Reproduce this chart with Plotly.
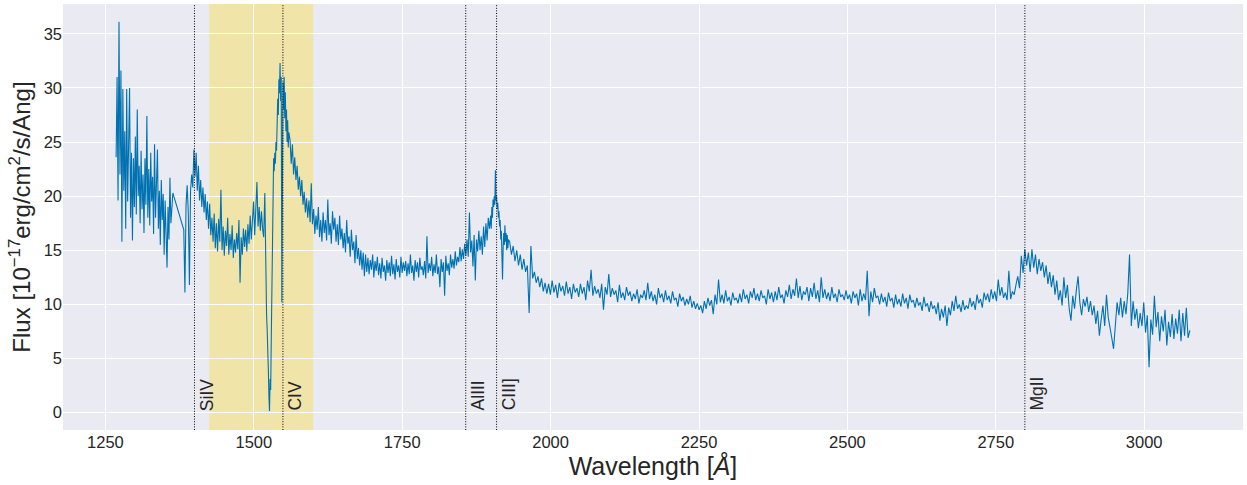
import numpy as np
import plotly.graph_objects as go

# Rest-frame quasar spectrum, stored as contiguous pieces: (start Å, end Å, flux values)
BLUE_START, BLUE_END = 1268.0, 1363.5
BLUE_FLUX = [
    23.6, 31.0, 19.6, 36.1, 22.0, 31.6, 15.8, 29.9, 20.5, 26.0,
    17.0, 29.9, 19.5, 24.5, 30.0, 18.0, 24.0, 15.9, 23.5, 19.0,
    25.5, 18.3, 28.0, 20.0, 22.8, 17.5, 24.2, 18.8, 22.0, 16.6,
    23.5, 19.2, 27.4, 18.0, 22.5, 17.3, 24.0, 19.5, 21.8, 16.5,
    24.8, 18.0, 21.0, 24.3, 17.0, 20.5, 15.5, 21.5, 17.8, 20.2,
    14.6, 19.6, 16.5, 13.4, 19.0, 16.0, 21.7, 17.5, 18.8, 20.3,
]

SIIV_START, SIIV_END = 1382.0, 1518.5
SIIV_FLUX = [
    16.9, 11.1, 19.2, 21.0, 18.5, 11.8, 20.5, 22.0, 20.8, 24.3,
    21.8, 24.0, 20.5, 22.8, 19.6, 21.5, 19.0, 20.8, 18.5, 20.2,
    17.8, 19.5, 17.0, 19.3, 16.4, 18.0, 15.8, 18.4, 15.2, 17.5,
    14.9, 17.9, 15.8, 20.6, 15.0, 17.2, 14.5, 16.8, 15.4, 18.0,
    14.6, 16.5, 15.0, 17.3, 14.3, 16.0, 14.8, 16.6, 15.1, 17.8,
    12.0, 16.2, 14.6, 17.0, 15.3, 16.9, 14.9, 17.4, 15.6, 18.2,
    16.0, 17.5, 19.5, 16.4, 18.6, 21.3, 17.2, 19.0, 16.8, 18.6,
    17.0, 16.2, 20.3,
]

CIV_START, CIV_END = 1519.5, 1559.0
CIV_FLUX = [
    14.0, 11.1, 9.0, 7.7, 6.5, 4.0, 1.5, 0.15, 3.1, 2.1,
    6.8, 11.0, 16.9, 18.2, 23.5, 22.3, 24.0, 23.0, 25.0, 24.2,
    26.8, 29.0, 27.5, 30.8, 29.5, 32.3, 28.8, 31.0, 10.2, 29.0,
    30.5, 28.0, 31.0, 27.2, 29.6, 26.0, 28.0, 25.0, 27.0, 24.5,
    25.9,
]

MID_START, MID_END = 1561.0, 1897.0
MID_FLUX = [
    25.2, 23.0, 24.8, 22.0, 23.6, 21.5, 22.8, 20.6, 21.8, 20.0,
    21.5, 19.2, 20.4, 18.5, 19.8, 18.0, 19.6, 17.6, 21.2, 17.4,
    18.8, 16.5, 18.2, 16.9, 19.0, 16.2, 17.8, 15.8, 18.5, 16.6,
    17.8, 15.9, 19.7, 16.4, 17.5, 15.6, 18.6, 16.9, 18.0, 15.8,
    17.4, 15.5, 18.2, 16.0, 17.0, 15.2, 16.6, 14.8, 17.8, 15.6,
    16.3, 14.4, 16.9, 15.0, 15.8, 13.8, 16.4, 14.2, 15.2, 13.6,
    15.0, 13.2, 14.8, 12.6, 14.6, 13.0, 14.3, 12.8, 14.1, 13.2,
    14.6, 12.5, 14.0, 13.1, 14.4, 12.7, 13.8, 12.4, 14.3, 13.0,
    13.6, 12.2, 14.1, 12.9, 13.9, 12.6, 14.5, 12.8, 13.7, 12.3,
    14.2, 13.0, 13.6, 12.5, 14.4, 12.9, 13.9, 13.1, 14.0, 12.6,
    13.8, 12.8, 14.6, 12.9, 13.6, 12.2, 14.1, 13.0, 13.9, 12.5,
    14.3, 13.2, 13.5, 12.7, 14.0, 12.4, 16.3, 12.9, 13.8, 13.1,
    14.4, 12.6, 13.7, 12.9, 14.6, 12.8, 13.5, 11.6, 14.2, 13.0,
    13.9, 10.8, 14.5, 13.1, 13.8, 12.7, 14.6, 13.4, 14.2, 13.3,
    14.9, 13.6, 14.4, 13.9, 15.3, 14.0, 15.1, 14.2, 15.6, 14.5,
    16.0, 14.4, 18.5, 14.8, 15.9, 13.5, 16.4, 12.2, 16.0, 14.9,
    16.8, 15.0, 16.3, 14.6, 17.2, 15.3, 17.5, 15.9, 18.0, 17.0,
]

CIII_START, CIII_END = 1899.0, 1929.0
CIII_FLUX = [
    18.2, 17.0, 19.0, 18.0, 19.7, 19.0, 20.0, 19.2, 22.4, 19.6,
    20.0, 18.8, 19.4, 18.0, 18.6, 17.2, 17.8, 16.0, 16.8, 14.5,
    12.3, 15.2, 16.6, 15.5, 17.3, 15.8, 16.6, 15.0, 16.4, 15.2,
    16.0,
]

CONT_START, CONT_END = 1931.0, 2781.0
CONT_FLUX = [
    15.8, 14.6, 15.4, 14.0, 15.0, 13.6, 14.6, 13.2, 14.2, 13.0,
    13.6, 9.2, 15.4, 12.4, 13.0, 12.0, 12.6, 11.6, 12.4, 11.2,
    12.0, 11.0, 11.9, 10.9, 12.2, 11.1, 11.8, 10.6, 12.0, 11.2,
    11.7, 10.8, 12.1, 11.0, 11.6, 10.5, 11.9, 11.1, 11.5, 10.7,
    11.9, 11.0, 11.6, 10.4, 12.2, 11.2, 13.2, 10.8, 11.7, 11.0,
    11.4, 10.6, 11.9, 9.5, 11.6, 10.9, 12.8, 10.7, 11.5, 10.9,
    11.3, 10.2, 11.8, 10.6, 11.1, 10.4, 11.6, 10.8, 11.2, 10.3,
    11.0, 10.5, 11.4, 10.1, 10.9, 10.6, 11.3, 10.4, 12.0, 10.5,
    11.2, 10.3, 10.9, 10.0, 11.5, 10.6, 11.0, 10.2, 11.3, 10.4,
    10.8, 10.1, 11.2, 10.4, 10.6, 9.8, 11.0, 10.3, 10.7, 9.9,
    10.5, 10.0, 10.8, 9.7, 10.3, 9.6, 10.1, 9.5, 9.9, 9.2,
    10.3, 9.6, 10.6, 9.9, 10.4, 9.1, 10.9, 10.0, 12.3, 10.2,
    10.9, 10.1, 11.3, 10.3, 10.7, 9.9, 11.1, 10.4, 10.6, 10.1,
    11.0, 10.2, 11.4, 10.5, 10.9, 10.1, 11.2, 10.6, 11.5, 10.4,
    11.0, 10.3, 11.3, 10.6, 10.8, 10.0, 11.4, 10.5, 11.1, 10.2,
    11.2, 10.4, 11.6, 10.6, 10.9, 10.1, 11.3, 10.7, 11.8, 10.5,
    11.4, 10.8, 12.4, 10.6, 11.7, 10.4, 11.2, 10.9, 11.6, 10.3,
    11.5, 10.7, 12.0, 10.5, 11.3, 10.2, 12.5, 10.6, 11.4, 10.5,
    11.1, 10.3, 11.6, 10.6, 11.0, 10.2, 11.4, 10.7, 10.9, 10.4,
    11.3, 10.5, 10.9, 10.1, 11.2, 10.6, 11.0, 9.9, 11.4, 10.3,
    11.0, 10.4, 13.1, 8.9, 11.2, 10.2, 11.5, 10.6, 10.8, 10.0,
    11.0, 10.2, 10.7, 9.8, 11.1, 10.3, 10.6, 9.7, 10.9, 10.0,
    10.5, 9.8, 11.0, 10.1, 10.6, 9.6, 10.9, 10.2, 10.4, 9.7,
    10.6, 9.9, 10.2, 9.4, 10.7, 9.8, 10.1, 9.3, 10.3, 9.6,
    9.9, 9.1, 10.2, 8.5, 9.6, 8.8, 9.9, 8.0, 9.7, 9.0,
    10.3, 9.4, 10.8, 9.6, 10.0, 9.3, 10.4, 9.5, 9.9, 9.6,
    10.6, 9.8, 10.3, 9.5, 10.9, 10.1, 10.5, 9.7, 11.1, 10.4,
    11.0, 10.2, 11.4, 10.5, 11.2, 10.3, 12.3, 10.8, 11.6, 10.6,
    11.1, 10.4, 13.1, 10.5, 11.2, 10.9,
]

MGII_START, MGII_END = 2784.0, 3077.0
MGII_FLUX = [
    11.8, 12.6, 11.5, 14.5, 12.9, 15.1, 13.6, 14.8, 13.0, 15.1,
    13.4, 14.6, 12.8, 14.2, 13.1, 13.9, 12.5, 13.6, 11.9, 13.0,
    11.6, 12.7, 10.9, 12.2, 10.4, 11.3, 9.9, 12.5, 10.6, 11.8,
    9.6, 8.5, 10.8, 9.6, 11.3, 12.6, 10.2, 9.0, 10.5, 9.8,
    10.7, 9.3, 10.3, 9.0, 9.9, 8.2, 9.4, 7.1, 8.6, 9.9,
    8.0, 10.9, 8.8, 7.6, 6.9, 5.9, 8.4, 10.2, 9.0, 10.6,
    8.8, 10.3, 9.1, 11.0, 14.6, 8.0, 10.3, 8.6, 9.6, 7.8,
    9.2, 8.0, 10.2, 7.4, 9.0, 4.2, 8.6, 7.2, 10.8, 7.9,
    9.3, 6.6, 8.9, 7.5, 9.5, 6.2, 8.4, 7.0, 9.1, 6.8,
    8.7, 7.3, 9.5, 6.6, 9.2, 7.1, 9.7, 6.9, 7.6,
]

PIECES = [
    (BLUE_START, BLUE_END, BLUE_FLUX),
    (SIIV_START, SIIV_END, SIIV_FLUX),
    (CIV_START, CIV_END, CIV_FLUX),
    (MID_START, MID_END, MID_FLUX),
    (CIII_START, CIII_END, CIII_FLUX),
    (CONT_START, CONT_END, CONT_FLUX),
    (MGII_START, MGII_END, MGII_FLUX),
]

# Emission lines marked on the plot
LINE_NAMES = ["SiIV", "CIV", "AlIII", "CIII]", "MgII"]
LINE_WAVES = [1400, 1549, 1857, 1909, 2799]

# Shaded fitting window around CIV
WINDOW = (1425, 1600)

X_TICKS = [1250, 1500, 1750, 2000, 2250, 2500, 2750, 3000]
Y_TICKS = [0, 5, 10, 15, 20, 25, 30, 35]

wave = np.concatenate([np.linspace(a, b, len(v)) for a, b, v in PIECES])
flux = np.concatenate([np.asarray(v, dtype=float) for _, _, v in PIECES])

FONT = "Liberation Sans, Arial, DejaVu Sans, sans-serif"
TXT = "#262626"

fig = go.Figure()
fig.add_trace(go.Scatter(
    x=wave, y=flux, mode="lines",
    line=dict(color="#0072B2", width=1.1),
    showlegend=False, hoverinfo="skip",
))

fig.add_shape(type="rect", xref="x", yref="paper",
              x0=WINDOW[0], x1=WINDOW[1], y0=0, y1=1,
              fillcolor="rgba(255,215,0,0.3)", line_width=0, layer="between")

for name, w in zip(LINE_NAMES, LINE_WAVES):
    fig.add_shape(type="line", xref="x", yref="paper", x0=w, x1=w, y0=0, y1=1,
                  line=dict(color="black", width=1, dash="1px,1.6px"), layer="above")
    fig.add_annotation(x=w, y=0, xref="x", yref="y", text=name, textangle=-90,
                       showarrow=False, xanchor="left", yanchor="bottom",
                       font=dict(family=FONT, size=17.5, color=TXT))

fig.update_layout(
    width=1247, height=485,
    margin=dict(l=63, r=4, t=4, b=55),
    paper_bgcolor="white", plot_bgcolor="#EAEAF2",
    font=dict(family=FONT, color=TXT),
)
fig.update_xaxes(
    range=[1178.5, 3166.5], tickvals=X_TICKS,
    showgrid=True, gridcolor="white", gridwidth=1, zeroline=False,
    showline=False, ticks="", tickfont=dict(size=16.5, color=TXT),
    title=dict(text="Wavelength [<i>Å</i>]", font=dict(size=25, color=TXT), standoff=6),
)
fig.update_yaxes(
    range=[-1.6, 37.75], tickvals=Y_TICKS,
    showgrid=True, gridcolor="white", gridwidth=1, zeroline=False,
    showline=False, ticks="", tickfont=dict(size=16.5, color=TXT),
    title=dict(text="Flux [10<sup>−17</sup>erg/cm<sup>2</sup>/s/Ang]",
               font=dict(size=24, color=TXT), standoff=6),
)

fig.write_html("out.html")
